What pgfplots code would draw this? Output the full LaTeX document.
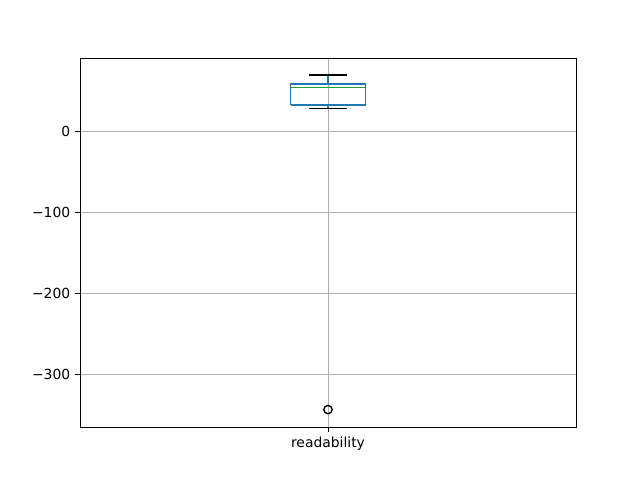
\documentclass[border=0pt]{standalone}
\usepackage{pgfplots}
\pgfplotsset{compat=1.18}
\usepackage{fontspec}
\setmainfont{DejaVu Sans}
\definecolor{mplblue}{HTML}{1F77B4}
\definecolor{mplgreen}{HTML}{2CA02C}
\definecolor{gridgray}{HTML}{B0B0B0}
\begin{document}
\begin{tikzpicture}
\path[use as bounding box] (-57.6pt,-38.16pt) rectangle (403.2pt,307.44pt);
\begin{axis}[
  at={(0,0)}, anchor=south west,
  scale only axis, width=357.12pt, height=265.68pt,
  xmin=0.5, xmax=1.5, ymin=-365.5, ymax=90.5,
  xtick={1}, xticklabels={readability},
  ytick={-300,-200,-100,0},
  yticklabels={−300,−200,−100,0},
  grid=major,
  major grid style={gridgray, line width=0.7pt},
  axis line style={line width=0.6pt},
  tick style={black, line width=0.6pt},
  tick align=outside, major tick length=3.5pt,
  xtick pos=bottom, ytick pos=left,
  tick label style={font=\fontsize{10}{12}\selectfont},
]
% box
\addplot[mplblue, line width=1pt, mark=none] coordinates {(0.925,32.5) (1.075,32.5) (1.075,58.4) (0.925,58.4) (0.925,32.5)};
% whiskers
\addplot[mplblue, line width=1pt, mark=none] coordinates {(1,58.4) (1,69.5)};
\addplot[mplblue, line width=1pt, mark=none] coordinates {(1,32.5) (1,28.1)};
% caps
\addplot[black, line width=1pt, mark=none] coordinates {(0.9625,69.5) (1.0375,69.5)};
\addplot[black, line width=1pt, mark=none] coordinates {(0.9625,28.1) (1.0375,28.1)};
% median
\addplot[mplgreen, line width=1pt, mark=none] coordinates {(0.925,53.9) (1.075,53.9)};
% outlier
\addplot[only marks, mark=o, mark size=3pt, mark options={draw=black, line width=1pt}] coordinates {(1,-344)};
\end{axis}
\end{tikzpicture}
\end{document}
